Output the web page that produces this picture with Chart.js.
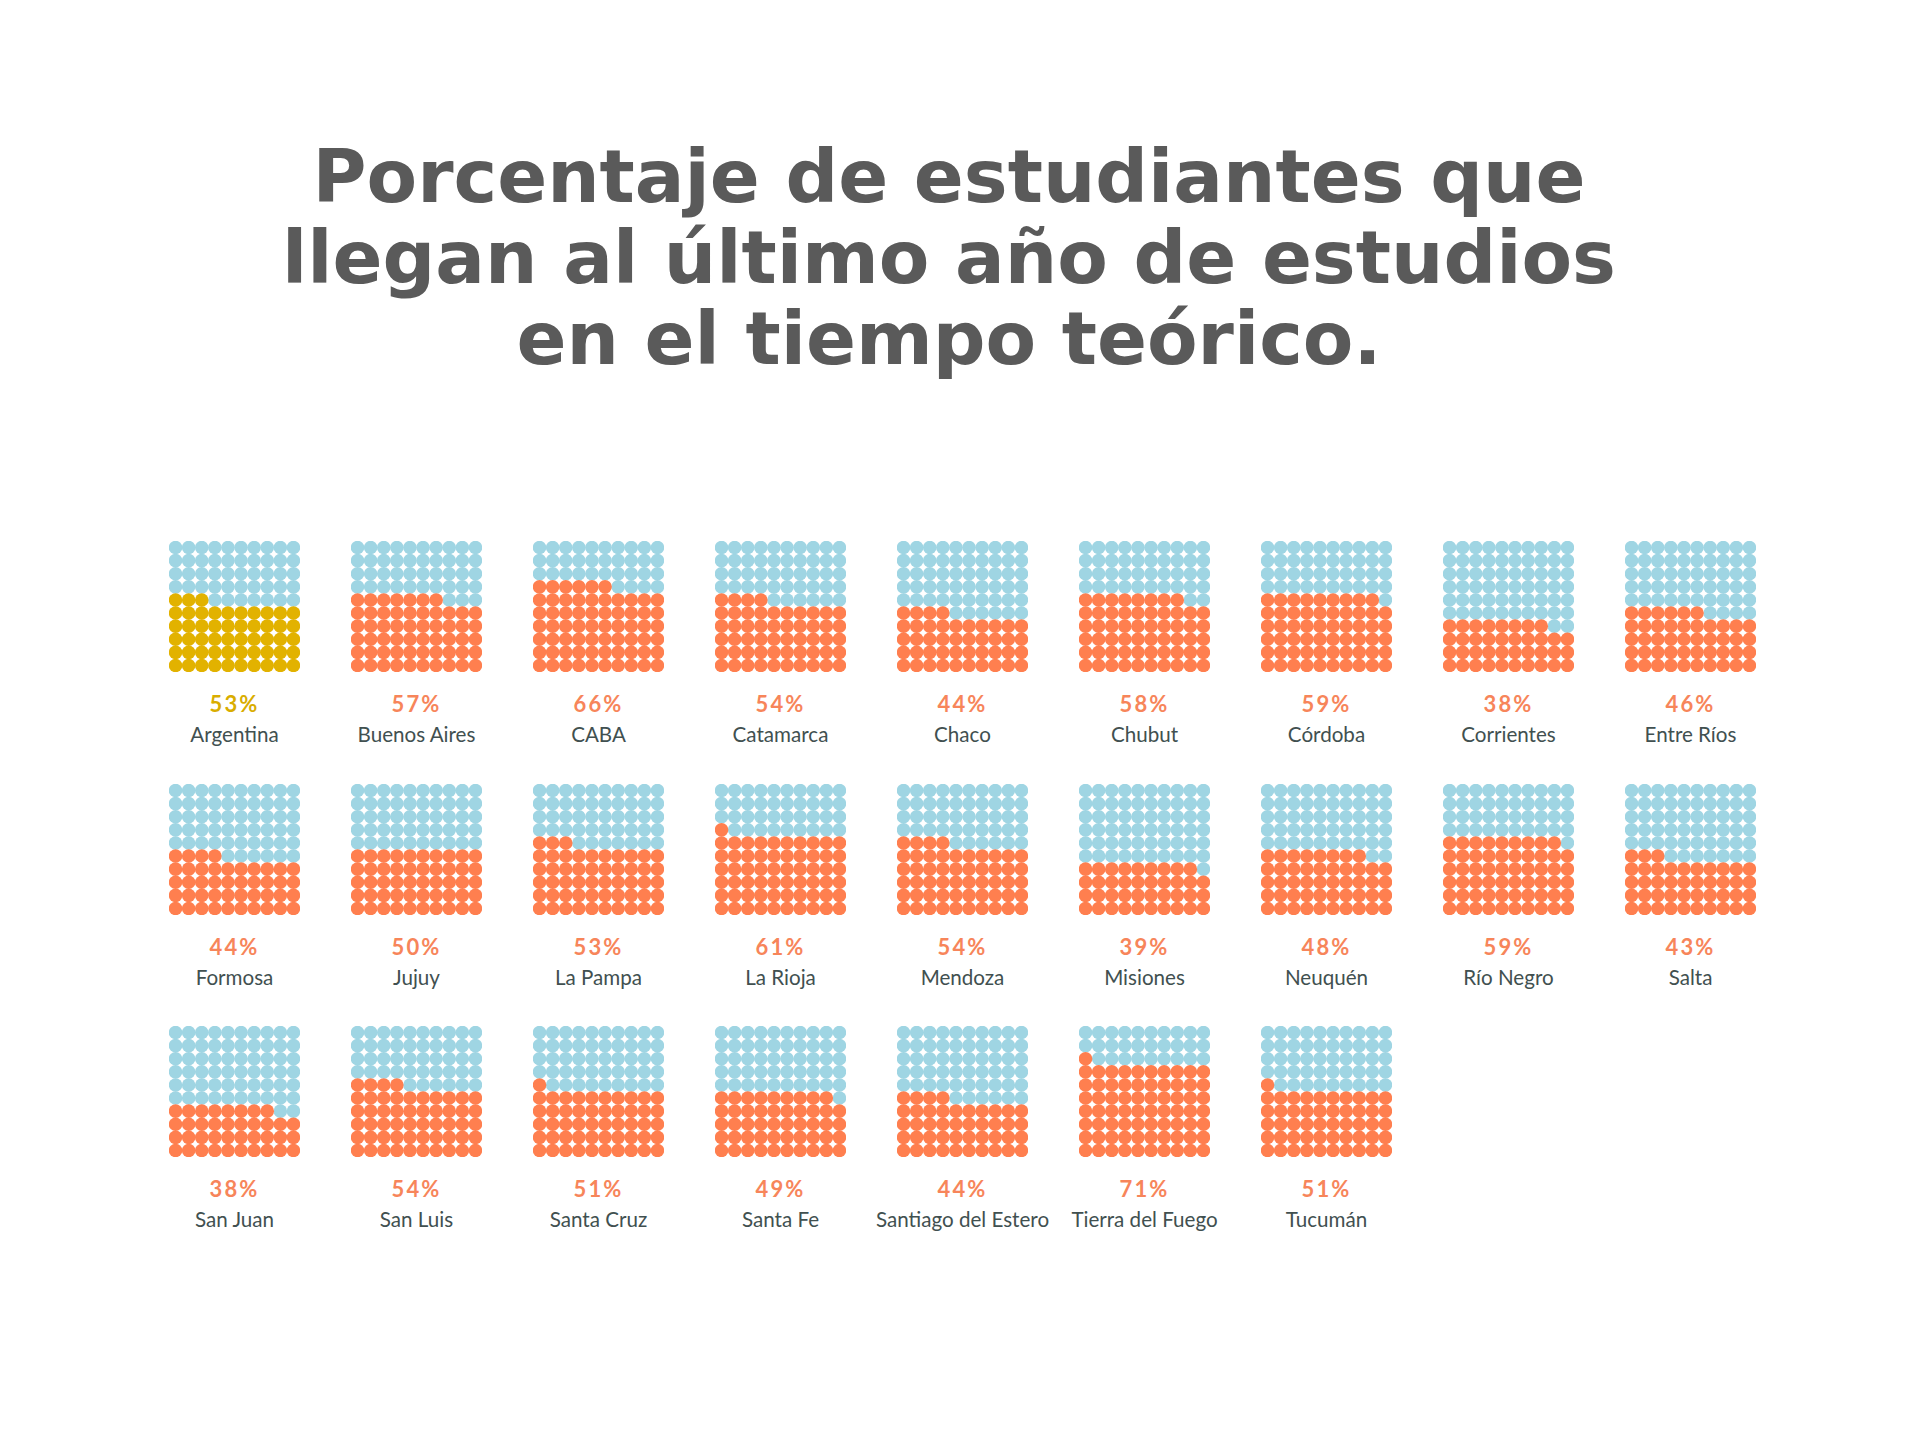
<!DOCTYPE html>
<html>
<head>
<meta charset="utf-8">
<script src="https://cdn.jsdelivr.net/npm/chart.js@4.4.1/dist/chart.umd.min.js"></script>
<style>
  body { margin: 0; background: #fff; width: 1920px; height: 1437px; position: relative; overflow: hidden; }
  h1 {
    position: absolute; left: -11px; top: 136px; width: 1920px; margin: 0;
    text-align: center; font-family: "DejaVu Sans", sans-serif; font-weight: bold;
    font-size: 73.7px; line-height: 81px; color: #5a5a5a; letter-spacing: 0;
  }
  .cell { position: absolute; width: 182px; }
  .cell canvas { position: absolute; left: 26px; top: 0; }
  .pct {
    position: absolute; left: 0; width: 183px; top: 151px; text-align: center;
    font-family: Lato, sans-serif; font-weight: bold; font-size: 22px; line-height: 24px;
    letter-spacing: 2.2px; color: #f7855a;
  }
  .name {
    position: absolute; left: -30px; width: 243px; top: 181px; text-align: center;
    font-family: Lato, sans-serif; font-size: 20.6px; line-height: 24px; color: #415050;
  }
</style>
</head>
<body>
<h1>Porcentaje de estudiantes que<br>llegan al último año de estudios<br>en el tiempo teórico.</h1>
<div id="grid"></div>
<script>
const regions = ['Argentina', 'Buenos Aires', 'CABA', 'Catamarca', 'Chaco', 'Chubut', 'Córdoba', 'Corrientes', 'Entre Ríos',
  'Formosa', 'Jujuy', 'La Pampa', 'La Rioja', 'Mendoza', 'Misiones', 'Neuquén', 'Río Negro', 'Salta',
  'San Juan', 'San Luis', 'Santa Cruz', 'Santa Fe', 'Santiago del Estero', 'Tierra del Fuego', 'Tucumán'];
const values = [53, 57, 66, 54, 44, 58, 59, 38, 46,
  44, 50, 53, 61, 54, 39, 48, 59, 43,
  38, 54, 51, 49, 44, 71, 51];
const highlighted = ['Argentina'];

const BLUE = '#9fd5e3';
const ORANGE = '#ff7f4f';
const GOLD = '#e2b200';

const grid = document.getElementById('grid');

regions.forEach((name, k) => {
  const col = k % 9, row = Math.floor(k / 9);
  const cell = document.createElement('div');
  cell.className = 'cell';
  cell.style.left = (143 + col * 182) + 'px';
  cell.style.top = (541 + row * 242.5) + 'px';
  const canvas = document.createElement('canvas');
  canvas.width = 131; canvas.height = 131;
  cell.appendChild(canvas);

  const isHi = highlighted.includes(name);
  const pct = document.createElement('div');
  pct.className = 'pct';
  pct.textContent = values[k] + '%';
  if (isHi) pct.style.color = '#d9ad00';
  cell.appendChild(pct);
  const lab = document.createElement('div');
  lab.className = 'name';
  lab.textContent = name;
  cell.appendChild(lab);
  grid.appendChild(cell);

  // 10x10 waffle, filled from the bottom row, left to right
  const filled = [], empty = [];
  for (let i = 0; i < 100; i++) {
    const p = { x: i % 10, y: Math.floor(i / 10) };
    (i < values[k] ? filled : empty).push(p);
  }

  new Chart(canvas, {
    type: 'scatter',
    data: {
      datasets: [
        { data: filled, backgroundColor: isHi ? GOLD : ORANGE, borderWidth: 0, pointRadius: 6.8, clip: false },
        { data: empty, backgroundColor: BLUE, borderWidth: 0, pointRadius: 6.8, clip: false }
      ]
    },
    options: {
      responsive: false,
      animation: false,
      devicePixelRatio: 1,
      layout: { padding: 0, autoPadding: false },
      plugins: { legend: { display: false }, tooltip: { enabled: false } },
      scales: {
        x: { display: false, min: -0.5, max: 9.5 },
        y: { display: false, min: -0.5, max: 9.5 }
      }
    }
  });
});
</script>
</body>
</html>
